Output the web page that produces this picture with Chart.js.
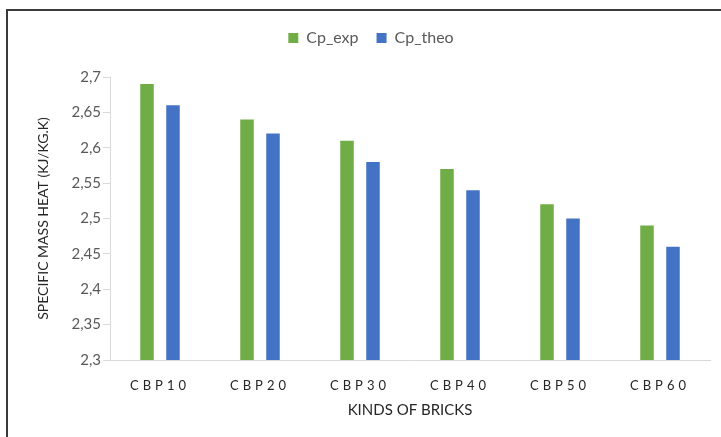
<!DOCTYPE html>
<html>
<head>
<meta charset="utf-8">
<script src="https://cdn.jsdelivr.net/npm/chart.js@4/dist/chart.umd.min.js"></script>
<style>
  html, body { margin: 0; padding: 0; background: #ffffff; overflow: hidden; }
  body { width: 721px; height: 437px; position: relative; }
  #frame {
    position: absolute; left: 6px; top: 9px; width: 800px; height: 500px;
    border-top: 2px solid #3a3a3a; border-left: 2px solid #3a3a3a;
  }
  #chart { position: absolute; left: 7px; top: 10px; }
</style>
</head>
<body>
<div id="frame"></div>
<canvas id="chart" width="728" height="427"></canvas>
<script>
// Specific mass heat per brick type, experimental vs theoretical
const categories = ['CBP10', 'CBP20', 'CBP30', 'CBP40', 'CBP50', 'CBP60'];
const cpExp  = [2.69, 2.64, 2.61, 2.57, 2.52, 2.49];
const cpTheo = [2.66, 2.62, 2.58, 2.54, 2.50, 2.46];
const yTickLabels = ['2,3', '2,35', '2,4', '2,45', '2,5', '2,55', '2,6', '2,65', '2,7'];

const axisGray = '#d9d9d9';
const textGray = '#595959';

Chart.defaults.font.family = 'Lato, "Open Sans", sans-serif';
Chart.defaults.color = textGray;

// Letter-spaced category labels and a taller legend band
const layoutTweaks = {
  id: 'layoutTweaks',
  beforeUpdate(chart) {
    const legend = chart.legend;
    if (legend && !legend._tallFit) {
      const fit = legend.fit;
      legend.fit = function () { fit.call(this); this.height = 65; };
      legend._tallFit = true;
    }
  },
  beforeDraw(chart) {
    const x = chart.scales.x;
    if (x && !x._spaced) {
      const drawLabels = x.drawLabels;
      x.drawLabels = function (area) {
        const ctx = this.ctx;
        ctx.save();
        ctx.letterSpacing = '4px';
        drawLabels.call(this, area);
        ctx.restore();
      };
      x._spaced = true;
    }
  }
};

new Chart(document.getElementById('chart'), {
  type: 'bar',
  data: {
    labels: categories,
    datasets: [
      { label: 'Cp_exp',  data: cpExp,  backgroundColor: '#70ad47' },
      { label: 'Cp_theo', data: cpTheo, backgroundColor: '#4472c4' }
    ]
  },
  options: {
    responsive: false,
    devicePixelRatio: 1,
    animation: false,
    categoryPercentage: 0.52,
    barPercentage: 0.52,
    layout: { padding: { top: 2, left: 25, right: 25, bottom: 0 } },
    plugins: {
      legend: {
        position: 'top',
        labels: {
          boxWidth: 10,
          boxHeight: 10,
          padding: 18,
          color: textGray,
          font: { size: 16 }
        }
      },
      tooltip: { enabled: false }
    },
    scales: {
      x: {
        afterFit(s) { s.height = 77; },
        grid: { drawOnChartArea: false, drawTicks: false, color: axisGray },
        border: { color: axisGray, width: 1 },
        ticks: { padding: 18, color: '#262626', font: { size: 13 }, maxRotation: 0 },
        title: {
          display: true,
          text: 'KINDS OF BRICKS',
          color: '#262626',
          font: { size: 15 },
          padding: { top: 4, bottom: 18 }
        }
      },
      y: {
        min: 2.3,
        max: 2.7,
        afterFit(s) { s.width = 78; },
        grid: { drawOnChartArea: false, drawTicks: true, tickLength: 7, color: axisGray },
        border: { color: axisGray, width: 1 },
        ticks: {
          stepSize: 0.05,
          padding: 2,
          color: textGray,
          font: { size: 15 },
          callback: (v, i) => yTickLabels[i] !== undefined ? yTickLabels[i] : String(v).replace('.', ',')
        },
        title: {
          display: true,
          text: 'SPECIFIC MASS HEAT (KJ/KG.K)',
          color: '#262626',
          font: { size: 14 },
          padding: { top: 2.6, bottom: 0 }
        }
      }
    }
  },
  plugins: [layoutTweaks]
});
</script>
</body>
</html>
